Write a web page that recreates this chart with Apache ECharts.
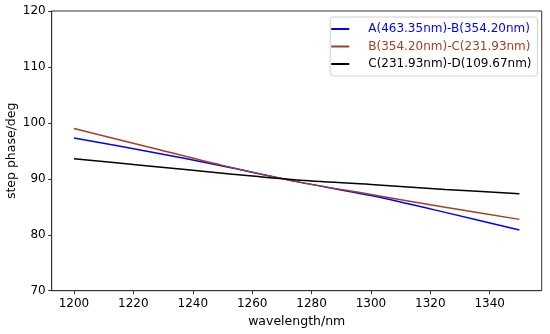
<!DOCTYPE html>
<html>
<head>
<meta charset="utf-8">
<script src="https://cdn.jsdelivr.net/npm/echarts@6/dist/echarts.min.js"></script>
<style>html,body{margin:0;padding:0;background:#fff;}#c{width:550px;height:334px;}</style>
</head>
<body>
<div id="c"></div>
<script>
const wavelengths = [1200, 1225, 1250, 1275, 1300, 1325, 1350];
const seriesNames = ['A(463.35nm)-B(354.20nm)', 'B(354.20nm)-C(231.93nm)', 'C(231.93nm)-D(109.67nm)'];
const abValues = [97.3, 94.9, 92.3, 89.5, 87.0, 84.0, 80.85];
const bcValues = [99.0, 95.7, 92.4, 89.5, 87.2, 84.9, 82.75];
const cdValues = [93.6, 92.3, 91.0, 89.8, 89.0, 88.1, 87.35];
const xTicks = [1200, 1220, 1240, 1260, 1280, 1300, 1320, 1340];
const yTicks = [70, 80, 90, 100, 110, 120];

const colors = ['#0000ff', '#a5401f', '#000000'];
const font = 'DejaVu Sans';
const pairs = v => wavelengths.map((w, i) => [w, v[i]]);
const allValues = [abValues, bcValues, cdValues];

const chart = echarts.init(document.getElementById('c'), null, {renderer: 'canvas'});
chart.setOption({
  animation: false,
  backgroundColor: '#fff',
  textStyle: {fontFamily: font},
  grid: {left: 51.7, top: 11, right: 8.3, bottom: 43.3, show: true, borderColor: '#333', borderWidth: 1, outerBoundsMode: 'none', containLabel: false},
  legend: {
    orient: 'vertical',
    right: 12.5,
    top: 17,
    padding: [5, 6, 5, 1],
    itemGap: 3.5,
    itemWidth: 18,
    itemHeight: 2,
    icon: 'rect',
    backgroundColor: '#fff',
    borderColor: '#d0d0d0',
    borderWidth: 1,
    borderRadius: 3,
    data: seriesNames.map((n, i) => ({name: n, itemStyle: {color: colors[i]}, textStyle: {color: colors[i]}})),
    textStyle: {fontFamily: font, fontSize: 12, padding: [0, 0, 0, 14], lineHeight: 14}
  },
  xAxis: {
    type: 'value',
    min: 1192.5,
    max: 1357.5,
    name: 'wavelength/nm',
    nameLocation: 'middle',
    nameGap: 31,
    nameMoveOverlap: false,
    nameTextStyle: {fontFamily: font, fontSize: 12.5, color: '#000', verticalAlign: 'middle'},
    splitLine: {show: false},
    axisLine: {lineStyle: {color: '#333', width: 1}},
    axisTick: {show: true, length: 3.5, lineStyle: {color: '#333'}, customValues: xTicks},
    axisLabel: {color: '#000', fontFamily: font, fontSize: 12, margin: 7, customValues: xTicks, formatter: v => String(v)}
  },
  yAxis: {
    type: 'value',
    min: 70,
    max: 120,
    name: 'step phase/deg',
    nameLocation: 'middle',
    nameGap: 40,
    nameMoveOverlap: false,
    nameTextStyle: {fontFamily: font, fontSize: 12.5, color: '#000', verticalAlign: 'middle'},
    splitLine: {show: false},
    axisLine: {show: true, lineStyle: {color: '#333', width: 1}},
    axisTick: {show: true, length: 3.5, lineStyle: {color: '#333'}, customValues: yTicks},
    axisLabel: {color: '#000', fontFamily: font, fontSize: 12, margin: 6, customValues: yTicks, formatter: v => String(v)}
  },
  series: seriesNames.map((n, i) => ({
    name: n,
    type: 'line',
    data: pairs(allValues[i]),
    showSymbol: false,
    symbol: 'none',
    smooth: 0.3,
    lineStyle: {color: colors[i], width: 1.5},
    itemStyle: {color: colors[i]}
  }))
});
</script>
</body>
</html>
